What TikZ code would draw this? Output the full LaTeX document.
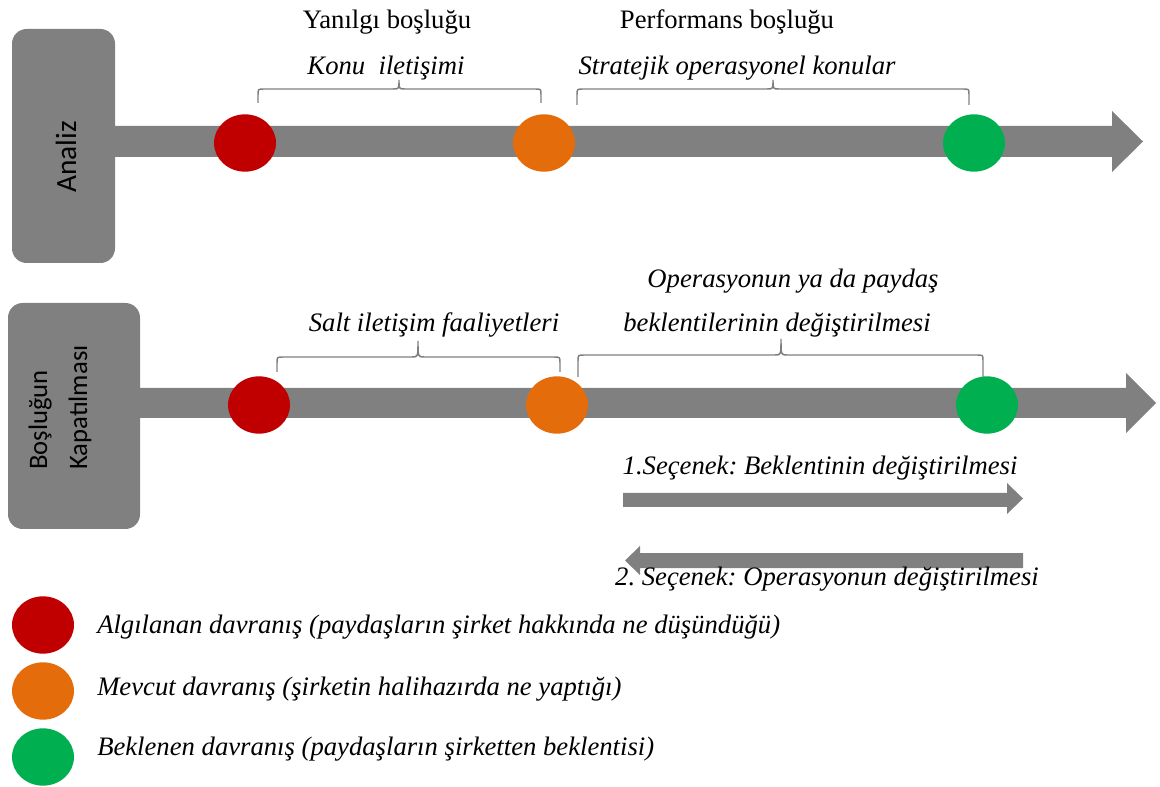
\documentclass[tikz,border=0pt]{standalone}
\usepackage{fontspec}
\setmainfont{Liberation Serif}
\newfontfamily\boxfont{Carlito}
\usetikzlibrary{shapes.geometric}
\definecolor{cred}{HTML}{C00000}
\definecolor{corange}{HTML}{E46C0A}
\definecolor{cgreen}{HTML}{00B050}
\definecolor{cgray}{HTML}{808080}
\definecolor{cbrace}{HTML}{7F7F7F}
\frenchspacing
\newcommand\gapbrace[6]{%
  \draw[bracestyle] (#1,#4) -- (#1,#5+6) .. controls (#1,#5) .. (#1+6,#5)
    -- (#3-6,#5) .. controls (#3,#5) .. (#3,#6)
    .. controls (#3,#5) .. (#3+6,#5)
    -- (#2-6,#5) .. controls (#2,#5) .. (#2,#5+6) -- (#2,#4);}
\begin{document}
\begin{tikzpicture}[x=0.75pt,y=-0.75pt,
  dot/.style={ellipse, minimum width=46.5pt, minimum height=43pt, inner sep=0pt, draw=none},
  panel/.style={fill=cgray, rounded corners=11pt, inner sep=0pt, draw=none},
  bar/.style={fill=cgray, draw=none},
  bracestyle/.style={draw=cbrace, line width=1.1pt},
  lbl/.style={font=\fontsize{20}{24}\selectfont, inner sep=0pt, anchor=base},
  ilbl/.style={font=\fontsize{20}{24}\selectfont\itshape, inner sep=0pt, anchor=base},
  leg/.style={font=\fontsize{20}{24}\selectfont\itshape, inner sep=0pt, anchor=base west},
  boxlbl/.style={font=\boxfont\fontsize{20}{30}\selectfont, inner sep=0pt, rotate=90}]
\useasboundingbox (0,0) rectangle (1160,787);

% ---- top panel ----
\fill[bar] (100,126) -- (1112,126) -- (1112,111) -- (1143,141.5) -- (1112,172) -- (1112,157) -- (100,157) -- cycle;
\node[panel, minimum width=77.25pt, minimum height=175.5pt] (analizbox) at (63.5,146) {};
\node[boxlbl, font=\boxfont\fontsize{22}{26}\selectfont, anchor=base] (analiz) at (76,157) {Analiz};

\node[dot, fill=cred] (r1) at (245,143) {};
\node[dot, fill=corange] (o1) at (544,143) {};
\node[dot, fill=cgreen] (g1) at (974,143) {};

\gapbrace{258}{541}{399}{103}{89}{80}
\gapbrace{577}{969}{773}{105}{89}{80}

\node[lbl] (yan) at (387,29) {Yanılgı boşluğu};
\node[lbl] (perf) at (727,29) {Performans boşluğu};
\node[ilbl] (konu) at (386,75) {Konu\ \ iletişimi};
\node[ilbl] (strat) at (737,75) {Stratejik operasyonel konular};

% ---- bottom panel ----
\fill[bar] (120,388) -- (1126,388) -- (1126,373) -- (1156,403) -- (1126,433) -- (1126,418) -- (120,418) -- cycle;
\node[panel, minimum width=99pt, minimum height=169.5pt] (kapbox) at (74,416) {};
\node[boxlbl, anchor=base west, align=left] (kap) at (87,470) {Boşluğun\\Kapatılması};

\node[dot, fill=cred] (r2) at (259,405) {};
\node[dot, fill=corange] (o2) at (557,405) {};
\node[dot, fill=cgreen] (g2) at (987,405) {};

\gapbrace{277}{560}{418}{372}{357}{341}
\gapbrace{578}{983}{781}{377}{355}{339}

\node[ilbl] (salt) at (434,332) {Salt iletişim faaliyetleri};
\node[ilbl] (oper1) at (793,288) {Operasyonun ya da paydaş};
\node[ilbl] (oper2) at (777,332) {beklentilerinin değiştirilmesi};

% option arrows
\fill[bar] (623,493) -- (1007,493) -- (1007,483) -- (1023,498.5) -- (1007,514) -- (1007,507) -- (623,507) -- cycle;
\fill[bar] (1023,553) -- (640,553) -- (640,546) -- (625,560.5) -- (640,575) -- (640,568) -- (1023,568) -- cycle;
\node[ilbl] (opt1) at (820,475) {1.Seçenek: Beklentinin değiştirilmesi};
\node[ilbl] (opt2) at (827,585) {2. Seçenek: Operasyonun değiştirilmesi};

% ---- legend ----
\node[dot, fill=cred] (lr) at (43,625) {};
\node[dot, fill=corange] (lo) at (43,691) {};
\node[dot, fill=cgreen] (lg) at (43,757) {};
\node[leg] (t1) at (97,633) {Algılanan davranış (paydaşların şirket hakkında ne düşündüğü)};
\node[leg] (t2) at (97,695) {Mevcut davranış (şirketin halihazırda ne yaptığı)};
\node[leg] (t3) at (97,755) {Beklenen davranış (paydaşların şirketten beklentisi)};
\end{tikzpicture}
\end{document}
